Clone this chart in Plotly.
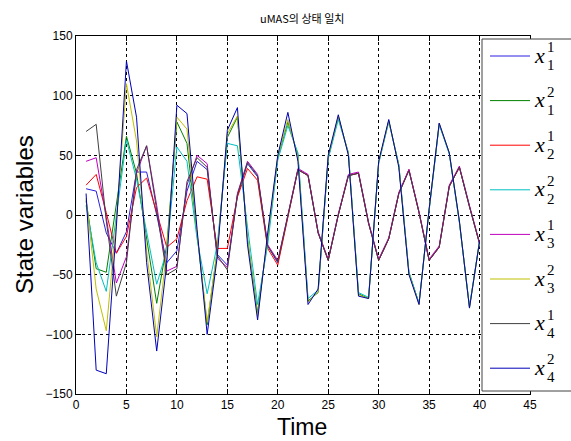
import plotly.graph_objects as go

t = list(range(1, 41))

x1_1 = [22, 20, -15, -32, -14, 36, 36, 0, -40, -30, 20, 45, 38, -33, -42, 16, 43, 32, -26, -40,
        -1, 38, 33, -15, -38, 0, 33, 35, -7, -38, -20, 18, 38, 2, -38, -27, 24, 40, 7, -24]
x1_2 = [12, -45, -48, 10, 66, 35, -20, -74, -25, 78, 60, -18, -92, -30, 65, 82, -20, -82, -20, 48,
        78, 50, -72, -65, 48, 82, 52, -66, -70, 44, 79, 42, -48, -74, 4, 76, 52, -6, -77, -22]
x2_1 = [25, 34, 2, -32, -18, 23, 31, 2, -27, -20, 12, 32, 30, -28, -28, 15, 39, 29, -28, -42,
        -2, 38, 33, -15, -38, 0, 33, 35, -7, -38, -20, 18, 38, 2, -38, -27, 24, 40, 7, -24]
x2_2 = [8, -40, -64, 0, 63, 30, -15, -58, -30, 57, 45, -20, -66, -25, 60, 58, -10, -75, -25, 46,
        75, 52, -70, -63, 47, 80, 52, -65, -69, 43, 78, 42, -48, -74, 4, 76, 51, -6, -77, -22]
x3_1 = [45, 48, -2, -57, -35, 35, 58, 8, -47, -43, 25, 50, 43, -36, -44, 18, 45, 34, -25, -38,
        0, 39, 34, -14, -37, 1, 34, 36, -6, -37, -19, 19, 38, 3, -37, -26, 25, 41, 8, -23]
x3_2 = [14, -62, -97, -5, 110, 62, -30, -102, -30, 82, 72, -15, -90, -30, 68, 83, -20, -85, -18, 49,
        80, 48, -73, -64, 49, 83, 51, -67, -70, 44, 79, 41, -49, -75, 5, 77, 52, -5, -78, -22]
x4_1 = [70, 76, -5, -68, -40, 38, 58, 5, -50, -45, 28, 48, 40, -34, -46, 17, 44, 33, -26, -39,
        -1, 38, 33, -15, -38, 0, 33, 35, -7, -38, -20, 18, 37, 2, -38, -27, 24, 40, 7, -24]
x4_2 = [18, -130, -133, -10, 129, 82, -40, -114, -40, 92, 85, -12, -100, -35, 71, 90, -25, -88, -15, 50,
        86, 45, -75, -62, 50, 84, 50, -68, -70, 45, 80, 40, -50, -75, 5, 77, 52, -5, -78, -22]

series = [x1_1, x1_2, x2_1, x2_2, x3_1, x3_2, x4_1, x4_2]
sub_labels = ["1", "1", "2", "2", "3", "3", "4", "4"]
sup_labels = ["1", "2", "1", "2", "1", "2", "1", "2"]
colors = ["#2a1fe0", "#007f00", "#ff0000", "#00bfbf", "#bf00bf", "#bfbf00", "#404040", "#0000b8"]

x_ticks = [0, 5, 10, 15, 20, 25, 30, 35, 40, 45]
y_ticks = [-150, -100, -50, 0, 50, 100, 150]

W, H = 571, 441
L, R, T, B = 76, 530, 36, 394


def px(xp):
    return (xp - L) / (R - L)


def py(yp):
    return (B - yp) / (B - T)


fig = go.Figure()
for s, c, a, b in zip(series, colors, sub_labels, sup_labels):
    fig.add_trace(go.Scatter(x=t, y=s, mode="lines", line=dict(color=c, width=1),
                             name=f"x_{a}^{b}", showlegend=False, hoverinfo="skip"))

tickfont = dict(family="Liberation Sans, Arial", size=12, color="black")
fig.update_xaxes(range=[0, 45], tickvals=x_ticks, ticks="inside", ticklen=5, tickcolor="black",
                 showline=True, mirror="ticks", linecolor="black", linewidth=1,
                 showgrid=True, gridcolor="black", griddash="3px,3px", gridwidth=1,
                 zeroline=False, tickfont=tickfont)
fig.update_yaxes(range=[-150, 150], tickvals=y_ticks, ticks="inside", ticklen=5, tickcolor="black",
                 showline=True, mirror="ticks", linecolor="black", linewidth=1,
                 showgrid=True, gridcolor="black", griddash="3px,3px", gridwidth=1,
                 zeroline=False, tickfont=tickfont)

shapes = []
annotations = []
# legend box: white fill, then left/top/bottom borders (right edge runs off the canvas)
edge = dict(color="#404040", width=1)
shapes.append(dict(type="rect", xref="paper", yref="paper", x0=px(482), x1=px(640),
                   y0=py(391), y1=py(39), fillcolor="white", line=dict(width=0),
                   layer="above"))
for (xa, ya, xb, yb) in [(482, 39, 482, 391), (482, 39, 640, 39), (482, 391, 640, 391)]:
    shapes.append(dict(type="line", xref="paper", yref="paper", x0=px(xa), x1=px(xb),
                       y0=py(ya), y1=py(yb), line=edge, layer="above"))
y_first, step = 56, 44.6
serif = "Liberation Serif, Times New Roman, serif"
for i, (c, a, b) in enumerate(zip(colors, sub_labels, sup_labels)):
    yy = y_first + i * step
    shapes.append(dict(type="line", xref="paper", yref="paper", x0=px(490), x1=px(530),
                       y0=py(yy), y1=py(yy), line=dict(color=c, width=1), layer="above"))
    annotations.append(dict(xref="paper", yref="paper", x=px(532), y=py(yy - 1), text="<i>x</i>",
                            showarrow=False, xanchor="left", yanchor="middle",
                            font=dict(family=serif, size=22, color="black")))
    annotations.append(dict(xref="paper", yref="paper", x=px(545), y=py(yy - 9), text=b,
                            showarrow=False, xanchor="left", yanchor="middle",
                            font=dict(family=serif, size=15, color="black")))
    annotations.append(dict(xref="paper", yref="paper", x=px(545), y=py(yy + 9), text=a,
                            showarrow=False, xanchor="left", yanchor="middle",
                            font=dict(family=serif, size=15, color="black")))

annotations.append(dict(xref="paper", yref="paper", x=px(302), y=py(18), text="uMAS의 상태 일치",
                        showarrow=False, xanchor="center", yanchor="middle",
                        font=dict(family="Noto Sans CJK KR", size=11, color="black")))
annotations.append(dict(xref="paper", yref="paper", x=px(302), y=py(427), text="Time",
                        showarrow=False, xanchor="center", yanchor="middle",
                        font=dict(family="Liberation Sans, Arial", size=23, color="black")))
annotations.append(dict(xref="paper", yref="paper", x=px(24), y=py(215), text="State variables",
                        showarrow=False, xanchor="center", yanchor="middle", textangle=-90,
                        font=dict(family="Liberation Sans, Arial", size=24, color="black")))

fig.update_layout(width=W, height=H, margin=dict(l=L, r=W - R, t=T, b=H - B),
                  paper_bgcolor="white", plot_bgcolor="white", shapes=shapes,
                  annotations=annotations, showlegend=False, hovermode=False)

fig.write_html("out.html", config={"displayModeBar": False},
               post_script="document.body.style.margin='0px';document.body.style.overflow='hidden';")
